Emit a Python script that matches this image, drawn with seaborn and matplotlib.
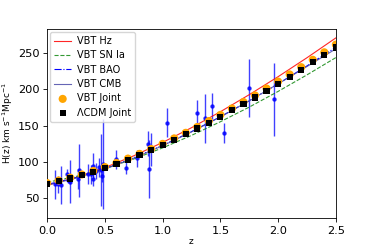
import numpy as np
import pandas as pd
import matplotlib
matplotlib.use("Agg")
import matplotlib.pyplot as plt
import seaborn as sns

# dados observacionais H(z)
z_obs = [0.07, 0.09, 0.12, 0.17, 0.179, 0.199, 0.2, 0.27, 0.28, 0.352, 0.3802,
         0.4, 0.4004, 0.4247, 0.4497, 0.47, 0.4783, 0.48, 0.593, 0.68, 0.781,
         0.875, 0.88, 0.9, 1.037, 1.3, 1.363, 1.43, 1.53, 1.75, 1.965]
h_obs = [69, 69, 68.6, 83, 75, 75, 72.9, 77, 88.8, 83, 83,
         95, 77, 87.1, 92.8, 89, 80.9, 97, 104, 92, 105,
         125, 90, 117, 154, 168, 160, 177, 140, 202, 186.5]
h_err = [19.6, 12, 26.2, 8, 4, 5, 29.6, 14, 36.6, 14, 13.5,
         17, 10.2, 11.2, 12.9, 49.6, 9, 62, 13, 8, 12,
         17, 40, 23, 20, 17, 33.6, 18, 14, 40, 50.4]

# curvas dos modelos
z_curva = [0.0, 0.25, 0.5, 0.75, 1.0, 1.25, 1.5, 1.75, 2.0, 2.25, 2.5]
h_vbt_hz = [68.0, 78.7, 92.3, 108.5, 126.9, 147.2, 169.2, 192.7, 217.5, 243.6, 270.9]
h_vbt_sn = [72.0, 80.1, 90.9, 104.1, 119.4, 136.6, 155.4, 175.6, 197.2, 220.0, 243.8]
h_vbt_bao = [69.0, 78.5, 90.9, 105.8, 122.9, 141.8, 162.3, 184.3, 207.7, 232.3, 258.0]
h_vbt_cmb = [68.0, 77.7, 90.2, 105.2, 122.4, 141.4, 162.1, 184.2, 207.6, 231.5, 255.8]

# ajustes conjuntos
z_joint = [0.0, 0.1, 0.2, 0.3, 0.4, 0.5, 0.6, 0.7, 0.8, 0.9, 1.0, 1.1, 1.2,
           1.3, 1.4, 1.5, 1.6, 1.7, 1.8, 1.9, 2.0, 2.1, 2.2, 2.3, 2.4, 2.5]
h_vbt_joint = [71.0, 74.5, 78.4, 82.8, 87.7, 93.0, 98.7, 104.7, 111.2, 117.9,
               125.0, 132.5, 140.2, 148.2, 156.4, 164.9, 173.7, 182.6, 191.7,
               201.2, 210.8, 220.6, 230.6, 240.8, 251.1, 261.7]
h_lcdm_joint = [70.0, 73.4, 77.3, 81.6, 86.4, 91.6, 97.2, 103.2, 109.6, 116.2,
                123.2, 130.6, 138.1, 146.0, 154.1, 162.5, 171.1, 179.9, 188.9,
                198.2, 207.7, 217.3, 227.2, 237.2, 247.4, 257.8]

fig = plt.figure(figsize=(3.74, 2.49), dpi=100)
ax = fig.add_axes([0.126, 0.125, 0.772, 0.758])

ax.errorbar(z_obs, h_obs, yerr=h_err, fmt="o", color="b", markersize=2.2,
            ecolor="b", elinewidth=1.0, alpha=0.75, zorder=2)

sns.lineplot(x=z_curva, y=h_vbt_hz, ax=ax, color="red", lw=0.8, alpha=0.85,
             label="VBT Hz")
sns.lineplot(x=z_curva, y=h_vbt_sn, ax=ax, color="green", lw=0.8, alpha=0.8,
             linestyle="--", label="VBT SN Ia")
sns.lineplot(x=z_curva, y=h_vbt_bao, ax=ax, color="blue", lw=0.8,
             linestyle="-.", label="VBT BAO")
sns.lineplot(x=z_curva, y=h_vbt_cmb, ax=ax, color="#4a4aa8", lw=0.8, alpha=0.85,
             label="VBT CMB")

sns.scatterplot(x=z_joint, y=h_vbt_joint, ax=ax, color="orange", marker="o",
                s=34, edgecolor="none", label="VBT Joint", zorder=4)
sns.scatterplot(x=z_joint, y=h_lcdm_joint, ax=ax, color="black", marker="s",
                s=20, edgecolor="none", label="ΛCDM Joint", zorder=5)

ax.set_xlim(0, 2.5)
ax.set_ylim(23, 283)
ax.set_xticks([0.0, 0.5, 1.0, 1.5, 2.0, 2.5])
ax.set_yticks([50, 100, 150, 200, 250])
ax.tick_params(labelsize=8.2, length=3, width=0.6, pad=2.5)
for s in ax.spines.values():
    s.set_linewidth(0.6)

ax.set_xlabel("z", fontsize=6.5, labelpad=1)
ax.set_ylabel("H(z) km s$^{-1}$Mpc$^{-1}$", fontsize=6.5, labelpad=2)

ax.legend(loc="upper left", fontsize=7, handlelength=1.8, labelspacing=0.45,
          borderpad=0.4, handletextpad=0.6, framealpha=0.8,
          borderaxespad=0.3)

fig.savefig("out.png", dpi=100)
